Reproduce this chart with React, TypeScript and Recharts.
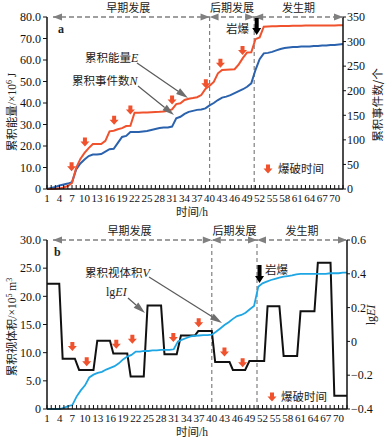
import React from 'react'
import { ComposedChart, Line, Scatter, XAxis, YAxis, ReferenceLine } from 'recharts'

// hours of monitoring
const HOURS = [
  1, 2, 3, 4, 5, 6, 7, 8, 9, 10, 11, 12, 13, 14, 15, 16, 17, 18, 19, 20, 21, 22, 23, 24,
  25, 26, 27, 28, 29, 30, 31, 32, 33, 34, 35, 36, 37, 38, 39, 40, 41, 42, 43, 44, 45, 46, 47, 48,
  49, 50, 51, 52, 53, 54, 55, 56, 57, 58, 59, 60, 61, 62, 63, 64, 65, 66, 67, 68, 69, 70, 71, 72,
]
const HOUR_LABELS = [1, 4, 7, 10, 13, 16, 19, 22, 25, 28, 31, 34, 37, 40, 43, 46, 49, 52, 55, 58, 61, 64, 67, 70]

// panel a: cumulative energy E (x10^6 J) and cumulative events N
const ENERGY = [
  0, 0, 0.1, 0.3, 0.7, 1.4, 2.8, 9.8, 14.0, 16.8, 19.0, 20.9, 20.9, 20.9, 22.4, 26.8, 27.1, 27.8, 28.3, 29.3, 29.4, 35.5, 35.5, 35.6,
  35.6, 35.7, 35.8, 35.9, 36.1, 36.4, 37.0, 39.5, 39.9, 41.4, 42.0, 42.3, 42.7, 43.7, 46.5, 48.0, 49.8, 53.8, 55.4, 55.5, 55.6, 55.7, 58.0, 61.0,
  63.5, 63.6, 69.7, 70.5, 75.5, 75.6, 75.7, 75.7, 75.8, 75.8, 75.8, 75.9, 75.9, 75.9, 76.0, 76.0, 76.0, 76.0, 76.1, 76.1, 76.1, 76.1, 76.2, 76.2,
]
const EVENTS = [
  0, 2, 4, 7, 9, 11, 14, 40, 52, 60, 67, 70, 70, 71, 76, 81, 82, 94, 106, 108, 116, 116, 116, 117,
  118, 120, 122, 124, 125, 125, 127, 144, 147, 153, 157, 159, 161, 162, 164, 170, 175, 181, 186, 188, 191, 195, 199, 203,
  208, 215, 242, 264, 276, 277, 279, 282, 285, 287, 288, 289, 289, 290, 290, 290, 291, 291, 292, 292, 293, 293, 294, 295,
]
const BLAST_A_T = [6.9, 10.1, 17.1, 21, 31, 39.1, 42.6, 47.9]
const BLAST_A_Y = [10.3, 21.9, 32, 36.7, 41.4, 48.9, 58.5, 64.4]

// panel b: cumulative apparent volume V (x10^5 m3) and lgEI
const VOLUME = [
  0, 0, 0, 0, 0.2, 0.5, 0.7, 2.2, 3.3, 4.2, 5.6, 6.1, 6.4, 6.6, 7.0, 7.3, 7.6, 8.1, 8.8, 9.3, 9.6, 10.2, 10.2, 10.3,
  10.3, 10.4, 10.4, 10.5, 10.5, 10.5, 10.6, 12.0, 12.3, 12.6, 12.9, 13.0, 13.05, 13.1, 13.1, 13.2, 13.7, 14.3, 14.9, 15.4, 16.0, 16.5, 16.7, 17.1,
  17.7, 18.3, 21.7, 22.3, 22.6, 22.9, 23.1, 23.3, 23.5, 23.6, 23.7, 23.9, 24.0, 24.0, 24.0, 24.0, 24.0, 24.0, 24.0, 24.1, 24.1, 24.1, 24.2, 24.2,
]
const LGEI_T = [
  1, 3.9, 4.7, 7.6, 8.6, 12.0, 12.9, 15.9, 16.7, 20.0, 20.8, 23.9, 24.8, 28.0, 28.8, 31.7, 32.7, 36.0,
  36.8, 40.0, 40.8, 44.2, 45.0, 47.9, 48.9, 52.4, 53.2, 56.0, 57.0, 60.2, 61.0, 64.3, 65.1, 68.1, 69.0, 72,
]
const LGEI_V = [
  0.341, 0.341, -0.102, -0.102, -0.169, -0.169, 0.004, 0.004, -0.072, -0.072, -0.208, -0.208, 0.212, 0.212, -0.076, -0.076, 0.035, 0.035,
  0.061, 0.061, -0.122, -0.122, -0.169, -0.169, -0.116, -0.116, 0.208, 0.208, -0.086, -0.086, 0.178, 0.178, 0.466, 0.466, -0.322, -0.322,
]
const BLAST_B_T = [7, 10.4, 17.4, 21.2, 30.9, 36.9, 43, 47.3]
const BLAST_B_Y = [11.1, 8.4, 11.5, 12.4, 12.7, 15.3, 10.1, 8.2]

const ENERGY_TICKS = [0, 10, 20, 30, 40, 50, 60, 70, 80]
const EVENT_TICKS = [0, 50, 100, 150, 200, 250, 300, 350]
const VOLUME_TICKS = [0, 5, 10, 15, 20, 25, 30]
const LGEI_TICKS = [-0.4, -0.3, -0.2, -0.1, 0, 0.1, 0.2, 0.3, 0.4, 0.5, 0.6]

const PHASES = ['早期发展', '后期发展', '发生期']
const PHASE_BOUNDS = [40, 50.7]
const BURST_HOUR = 51.3

const SERIF = '"Liberation Serif", "DejaVu Serif", serif'
const CJK = '"Noto Sans CJK SC", sans-serif'
const RED = '#f0522d'
const BLUE = '#2b62ad'
const CYAN = '#1ea6e4'
const GRAY = '#808080'

const W = 389
const H = 220
const AXIS_Y = 189
const PLOT_LEFT = 47
const RIGHT_A = 343
const RIGHT_B = 347

const toXA = (t: number) => PLOT_LEFT + ((t - 1) * (RIGHT_A - PLOT_LEFT)) / 71
const toXB = (t: number) => PLOT_LEFT + ((t - 1) * (RIGHT_B - PLOT_LEFT)) / 71

const energyData = HOURS.map((t, i) => ({ t, v: ENERGY[i] }))
const eventData = HOURS.map((t, i) => ({ t, v: EVENTS[i] }))
const volumeData = HOURS.map((t, i) => ({ t, v: VOLUME[i] }))
const lgeiData = LGEI_T.map((t, i) => ({ t, v: LGEI_V[i] }))
const blastA = BLAST_A_T.map((t, i) => ({ t, v: BLAST_A_Y[i] }))
const blastB = BLAST_B_T.map((t, i) => ({ t, v: BLAST_B_Y[i] }))

const fixed1 = (v: number) => (v === 0 ? '0' : v.toFixed(1).replace('-', '−'))

function HourTick(props: any) {
  const { x, payload } = props
  const t = payload.value
  return (
    <g>
      <line x1={x} x2={x} y1={AXIS_Y} y2={AXIS_Y - 4} stroke="#111" strokeWidth={1} />
      {HOUR_LABELS.includes(t) && (
        <text x={x} y={AXIS_Y + 13} textAnchor="middle" fontFamily={SERIF} fontSize={11} fill="#111">
          {t}
        </text>
      )}
    </g>
  )
}

function DownArrow({ cx, cy, color = RED }: { cx: number; cy: number; color?: string }) {
  const d = `M${cx - 2},${cy - 4.5} L${cx + 2},${cy - 4.5} L${cx + 2},${cy - 0.5} L${cx + 4.5},${cy - 0.5} L${cx},${cy + 4.5} L${cx - 4.5},${cy - 0.5} L${cx - 2},${cy - 0.5} Z`
  return <path d={d} fill={color} />
}

const blastShape = (p: any) => <DownArrow cx={p.cx} cy={p.cy} />

function Pointer({ x1, y1, x2, y2 }: { x1: number; y1: number; x2: number; y2: number }) {
  const len = Math.hypot(x2 - x1, y2 - y1)
  const ux = (x2 - x1) / len
  const uy = (y2 - y1) / len
  const bx = x2 - ux * 12
  const by = y2 - uy * 12
  const pts = `${x2},${y2} ${bx - uy * 3.5},${by + ux * 3.5} ${bx + uy * 3.5},${by - ux * 3.5}`
  return (
    <g>
      <line x1={x1} y1={y1} x2={bx} y2={by} stroke="#5a5a5a" strokeWidth={1.2} />
      <polygon points={pts} fill="#6e6e6e" />
    </g>
  )
}

function PhaseBar({ y, x0, x1, splits }: { y: number; x0: number; x1: number; splits: number[] }) {
  const head = (tx: number, dir: number) => (
    <polygon points={`${tx},${y} ${tx - dir * 9},${y - 3.5} ${tx - dir * 9},${y + 3.5}`} fill={GRAY} />
  )
  return (
    <g>
      <line x1={x0} x2={x1} y1={y} y2={y} stroke={GRAY} strokeWidth={1.5} strokeDasharray="5 3" />
      {head(x0, -1)}
      {splits.map((s) => (
        <g key={s}>
          {head(s, 1)}
          {head(s, -1)}
        </g>
      ))}
      {head(x1, 1)}
    </g>
  )
}

function BurstArrow({ x, y0, y1 }: { x: number; y0: number; y1: number }) {
  const d = `M${x - 2},${y0} L${x + 2},${y0} L${x + 2},${y1 - 7} L${x + 4.5},${y1 - 7} L${x},${y1} L${x - 4.5},${y1 - 7} L${x - 2},${y1 - 7} Z`
  return <path d={d} fill="#000" />
}

const txt = { fontFamily: CJK, fontSize: 11.5, fill: '#222' }
const axisLine = { stroke: '#111', strokeWidth: 1.5 }
const yTick = { fontFamily: SERIF, fontSize: 12, fill: '#111' }

function Overlay() {
  const splitsA = PHASE_BOUNDS.map(toXA)
  const splitsB = PHASE_BOUNDS.map(toXB)
  const centersA = [(PLOT_LEFT + splitsA[0]) / 2, (splitsA[0] + splitsA[1]) / 2, (splitsA[1] + RIGHT_A) / 2]
  const centersB = [(PLOT_LEFT + splitsB[0]) / 2, (splitsB[0] + splitsB[1]) / 2, (splitsB[1] + RIGHT_B) / 2]
  return (
    <svg width={W} height={440} style={{ position: 'absolute', left: 0, top: 0, pointerEvents: 'none' }}>
      {/* panel a */}
      <PhaseBar y={17} x0={53} x1={RIGHT_A} splits={splitsA} />
      {PHASES.map((p, i) => (
        <text key={p} x={centersA[i]} y={12} textAnchor="middle" {...txt} fontSize={11}>
          {p}
        </text>
      ))}
      <text x={58} y={33} fontFamily={SERIF} fontSize={12} fontWeight="bold" fill="#222">a</text>
      <text x={85} y={62} {...txt}>
        累积能量<tspan fontFamily={SERIF} fontStyle="italic" fontSize={12}>E</tspan>
      </text>
      <Pointer x1={137} y1={63} x2={188} y2={98} />
      <text x={72} y={85} {...txt}>
        累积事件数<tspan fontFamily={SERIF} fontStyle="italic" fontSize={12}>N</tspan>
      </text>
      <Pointer x1={138} y1={86} x2={174} y2={115} />
      <text x={249} y={33} textAnchor="end" {...txt}>岩爆</text>
      <BurstArrow x={toXA(BURST_HOUR)} y0={18} y1={35} />
      <DownArrow cx={268} cy={169} />
      <text x={278} y={173} {...txt}>爆破时间</text>
      <text x={192} y={216} textAnchor="middle" {...txt}>
        时间<tspan fontFamily={SERIF}>/h</tspan>
      </text>
      <text transform="translate(16,112) rotate(-90)" textAnchor="middle" {...txt}>
        累积能量<tspan fontFamily={SERIF}>/×10</tspan>
        <tspan fontFamily={SERIF} fontSize={8} dy={-4}>6</tspan>
        <tspan fontFamily={SERIF} dy={4}> J</tspan>
      </text>
      <text transform="translate(382,105) rotate(-90)" textAnchor="middle" {...txt}>
        累积事件数/个
      </text>

      {/* panel b */}
      <PhaseBar y={240} x0={53} x1={RIGHT_B} splits={splitsB} />
      {PHASES.map((p, i) => (
        <text key={p} x={centersB[i]} y={235} textAnchor="middle" {...txt} fontSize={11}>
          {p}
        </text>
      ))}
      <text x={54} y={256} fontFamily={SERIF} fontSize={12} fontWeight="bold" fill="#222">b</text>
      <text x={85} y={277} {...txt}>
        累积视体积<tspan fontFamily={SERIF} fontStyle="italic" fontSize={12}>V</tspan>
      </text>
      <Pointer x1={149} y1={277} x2={222} y2={323} />
      <text x={106} y={296} fontFamily={SERIF} fontSize={12} fill="#222">
        lg<tspan fontStyle="italic">EI</tspan>
      </text>
      <Pointer x1={128} y1={298} x2={145} y2={313} />
      <text x={265} y={274} {...txt}>岩爆</text>
      <BurstArrow x={toXB(BURST_HOUR)} y0={265} y1={283} />
      <DownArrow cx={272} cy={397} />
      <text x={281} y={401} {...txt}>爆破时间</text>
      <text x={192} y={436} textAnchor="middle" {...txt}>
        时间<tspan fontFamily={SERIF}>/h</tspan>
      </text>
      <text transform="translate(16,327) rotate(-90)" textAnchor="middle" {...txt}>
        累积视体积<tspan fontFamily={SERIF}>/×10</tspan>
        <tspan fontFamily={SERIF} fontSize={8} dy={-4}>5</tspan>
        <tspan fontFamily={SERIF} dy={4}> m</tspan>
        <tspan fontFamily={SERIF} fontSize={8} dy={-4}>3</tspan>
      </text>
      <text transform="translate(375,315) rotate(-90)" textAnchor="middle" fontFamily={SERIF} fontSize={12} fill="#222">
        lg<tspan fontStyle="italic">EI</tspan>
      </text>
    </svg>
  )
}

export default function App() {
  return (
    <div style={{ position: 'absolute', left: 0, top: 0, width: W, height: 440, background: '#fff' }}>
      <div style={{ position: 'absolute', left: 0, top: 0 }}>
        <ComposedChart width={W} height={H} margin={{ top: 17, right: 6, bottom: 6, left: 7 }}>
          <XAxis
            type="number"
            dataKey="t"
            domain={[1, 72]}
            ticks={HOURS}
            interval={0}
            tick={HourTick}
            tickLine={false}
            axisLine={axisLine}
            height={25}
          />
          <YAxis
            yAxisId="left"
            domain={[0, 80]}
            ticks={ENERGY_TICKS}
            tickFormatter={fixed1}
            tick={yTick}
            tickSize={4}
            tickMargin={2}
            tickLine={{ stroke: '#111' }}
            axisLine={axisLine}
            width={40}
          />
          <YAxis
            yAxisId="right"
            orientation="right"
            domain={[0, 350]}
            ticks={EVENT_TICKS}
            tick={yTick}
            tickSize={3}
            tickMargin={1}
            tickLine={{ stroke: '#111' }}
            axisLine={axisLine}
            width={40}
          />
          {PHASE_BOUNDS.map((b) => (
            <ReferenceLine key={b} x={b} yAxisId="left" stroke={GRAY} strokeDasharray="4 3" strokeWidth={1.2} />
          ))}
          <Line data={eventData} dataKey="v" yAxisId="right" type="linear" stroke={BLUE} strokeWidth={2} dot={false} isAnimationActive={false} />
          <Line data={energyData} dataKey="v" yAxisId="left" type="linear" stroke={RED} strokeWidth={2} dot={false} isAnimationActive={false} />
          <Scatter data={blastA} dataKey="v" yAxisId="left" shape={blastShape} isAnimationActive={false} />
        </ComposedChart>
      </div>
      <div style={{ position: 'absolute', left: 0, top: 220 }}>
        <ComposedChart width={W} height={H} margin={{ top: 20, right: 2, bottom: 6, left: 7 }}>
          <XAxis
            type="number"
            dataKey="t"
            domain={[1, 72]}
            ticks={HOURS}
            interval={0}
            tick={HourTick}
            tickLine={false}
            axisLine={axisLine}
            height={25}
          />
          <YAxis
            yAxisId="left"
            domain={[0, 30]}
            ticks={VOLUME_TICKS}
            tickFormatter={fixed1}
            tick={yTick}
            tickSize={4}
            tickMargin={2}
            tickLine={{ stroke: '#111' }}
            axisLine={axisLine}
            width={40}
          />
          <YAxis
            yAxisId="right"
            orientation="right"
            domain={[-0.4, 0.6]}
            ticks={LGEI_TICKS}
            tickFormatter={fixed1}
            tick={yTick}
            tickSize={3}
            tickMargin={1}
            tickLine={{ stroke: '#111' }}
            axisLine={axisLine}
            width={40}
          />
          {PHASE_BOUNDS.map((b) => (
            <ReferenceLine key={b} x={b} yAxisId="left" stroke={GRAY} strokeDasharray="4 3" strokeWidth={1.2} />
          ))}
          <Line data={lgeiData} dataKey="v" yAxisId="right" type="linear" stroke="#111" strokeWidth={2} dot={false} isAnimationActive={false} />
          <Line data={volumeData} dataKey="v" yAxisId="left" type="linear" stroke={CYAN} strokeWidth={1.8} dot={false} isAnimationActive={false} />
          <Scatter data={blastB} dataKey="v" yAxisId="left" shape={blastShape} isAnimationActive={false} />
        </ComposedChart>
      </div>
      <Overlay />
    </div>
  )
}
